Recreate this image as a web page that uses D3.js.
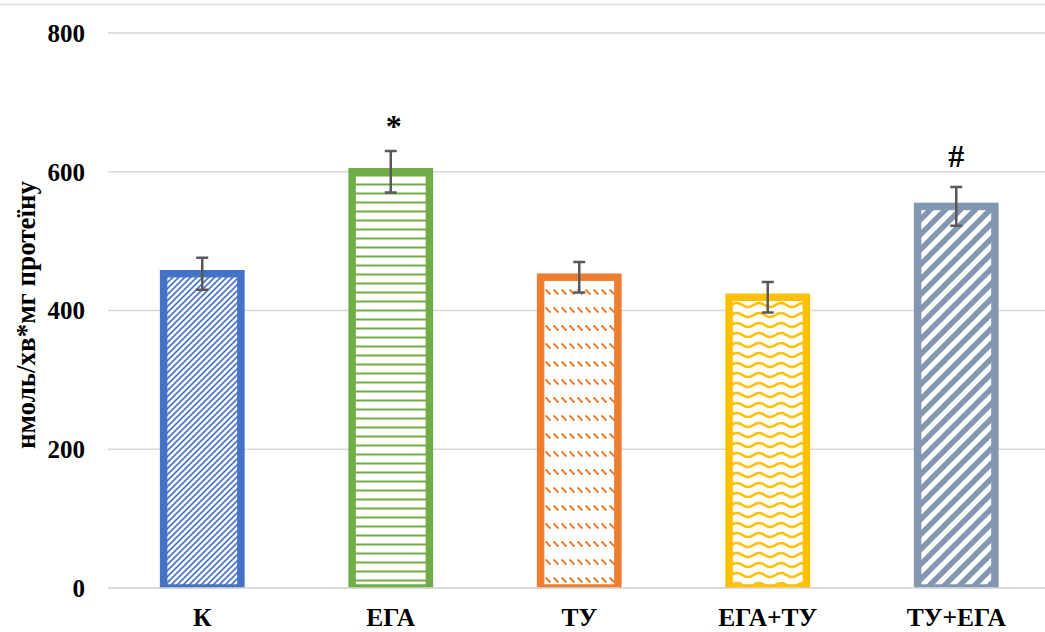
<!DOCTYPE html>
<html>
<head>
<meta charset="utf-8">
<script src="https://cdn.jsdelivr.net/npm/d3@7/dist/d3.min.js"></script>
<style>
  html, body { margin: 0; padding: 0; background: #fff; }
  svg { display: block; }
  text { font-family: "Liberation Serif", "Times New Roman", serif; font-weight: bold; fill: #000; }
</style>
</head>
<body>
<script>
// Activity per group, nmol/min*mg protein
const categories = ["К", "ЕГА", "ТУ", "ЕГА+ТУ", "ТУ+ЕГА"];
const means = [453, 600, 448, 419, 550];
const errors = [23, 30, 22, 22, 28];
const marks = ["", "*", "", "", "#"];
const yTicks = [0, 200, 400, 600, 800];
const yTitle = "нмоль/хв*мг протеїну";

const W = 1045, H = 632;
const svg = d3.select("body").append("svg").attr("width", W).attr("height", H);
svg.append("rect").attr("width", W).attr("height", H).attr("fill", "#fff");

const y = d3.scaleLinear().domain([0, 800]).range([588, 33]);
const x = d3.scaleBand().domain(categories).range([108, 1050.5])
  .paddingInner(0.59).paddingOuter(0.295);

const defs = svg.append("defs");

// hatch fills for each bar
function pattern(id, w, h, draw) {
  const p = defs.append("pattern").attr("id", id)
    .attr("patternUnits", "userSpaceOnUse").attr("width", w).attr("height", h);
  p.append("rect").attr("width", w).attr("height", h).attr("fill", "#fff");
  draw(p);
}
pattern("pK", 6, 6, p => p.append("path")
  .attr("d", "M0,6L6,0M-1,1L1,-1M5,7L7,5")
  .attr("stroke", "#4472C4").attr("stroke-width", 1.6));
pattern("pEGA", 10, 9, p => p.append("path")
  .attr("d", "M0,4.5H10")
  .attr("stroke", "#70AD47").attr("stroke-width", 2));
pattern("pTU", 8, 18, p => p.append("path")
  .attr("d", "M1.5,1.5L6.5,6.5")
  .attr("stroke", "#ED7D31").attr("stroke-width", 2));
pattern("pEGATU", 22, 10, p => p.append("path")
  .attr("d", "M0,7C5.5,7 5.5,3 11,3C16.5,3 16.5,7 22,7")
  .attr("fill", "none").attr("stroke", "#FFC000").attr("stroke-width", 2.4));
pattern("pTUEGA", 15, 15, p => p.append("path")
  .attr("d", "M0,15L15,0M-3,3L3,-3M12,18L18,12")
  .attr("stroke", "#8497B0").attr("stroke-width", 5.5));

const fills = ["url(#pK)", "url(#pEGA)", "url(#pTU)", "url(#pEGATU)", "url(#pTUEGA)"];
const strokes = ["#4472C4", "#70AD47", "#ED7D31", "#FFC000", "#8497B0"];

defs.append("clipPath").attr("id", "plotClip")
  .append("rect").attr("x", 0).attr("y", 0).attr("width", W).attr("height", 588);

// frame line along the top
svg.append("line").attr("x1", 0).attr("x2", W).attr("y1", 4.5).attr("y2", 4.5)
  .attr("stroke", "#d9d9d9").attr("stroke-width", 1.5);

// gridlines
svg.append("g").selectAll("line").data(yTicks).join("line")
  .attr("x1", 108).attr("x2", W)
  .attr("y1", d => y(d)).attr("y2", d => y(d))
  .attr("stroke", "#d9d9d9").attr("stroke-width", 1.5);

// y tick labels
svg.append("g").selectAll("text").data(yTicks).join("text")
  .attr("x", 85).attr("y", d => y(d)).attr("dy", "0.35em")
  .attr("text-anchor", "end").attr("font-size", 25)
  .text(d => d);

// bars
const data = categories.map((c, i) => ({ c, v: means[i], e: errors[i], m: marks[i], i }));
svg.append("g").attr("clip-path", "url(#plotClip)")
  .selectAll("rect").data(data).join("rect")
  .attr("x", d => x(d.c)).attr("width", x.bandwidth())
  .attr("y", d => y(d.v)).attr("height", d => y(0) - y(d.v))
  .attr("fill", d => fills[d.i]).attr("stroke", d => strokes[d.i])
  .attr("stroke-width", 7.5);

// baseline axis
svg.append("line").attr("x1", 108).attr("x2", W).attr("y1", y(0)).attr("y2", y(0))
  .attr("stroke", "#d9d9d9").attr("stroke-width", 1.5);

// error bars
const eb = svg.append("g").attr("stroke", "#595959").attr("stroke-width", 2.5).attr("fill", "none");
eb.selectAll("path").data(data).join("path")
  .attr("d", d => {
    const cx = x(d.c) + x.bandwidth() / 2, t = y(d.v + d.e), b = y(d.v - d.e);
    return `M${cx - 6},${t}H${cx + 6}M${cx},${t}V${b}M${cx - 6},${b}H${cx + 6}`;
  });

// significance marks
svg.append("g").selectAll("text").data(data.filter(d => d.m)).join("text")
  .attr("x", d => x(d.c) + x.bandwidth() / 2 + (d.m === "*" ? 3 : 0))
  .attr("y", d => y(d.v + d.e) - (d.m === "*" ? 14 : 20))
  .attr("text-anchor", "middle").attr("font-size", 32)
  .text(d => d.m);

// category labels
svg.append("g").selectAll("text").data(categories).join("text")
  .attr("x", d => x(d) + x.bandwidth() / 2).attr("y", 626)
  .attr("text-anchor", "middle").attr("font-size", 25.5)
  .text(d => d);

// y axis title
svg.append("text")
  .attr("transform", "translate(35,315) rotate(-90)")
  .attr("text-anchor", "middle").attr("font-size", 27)
  .text(yTitle);
</script>
</body>
</html>
